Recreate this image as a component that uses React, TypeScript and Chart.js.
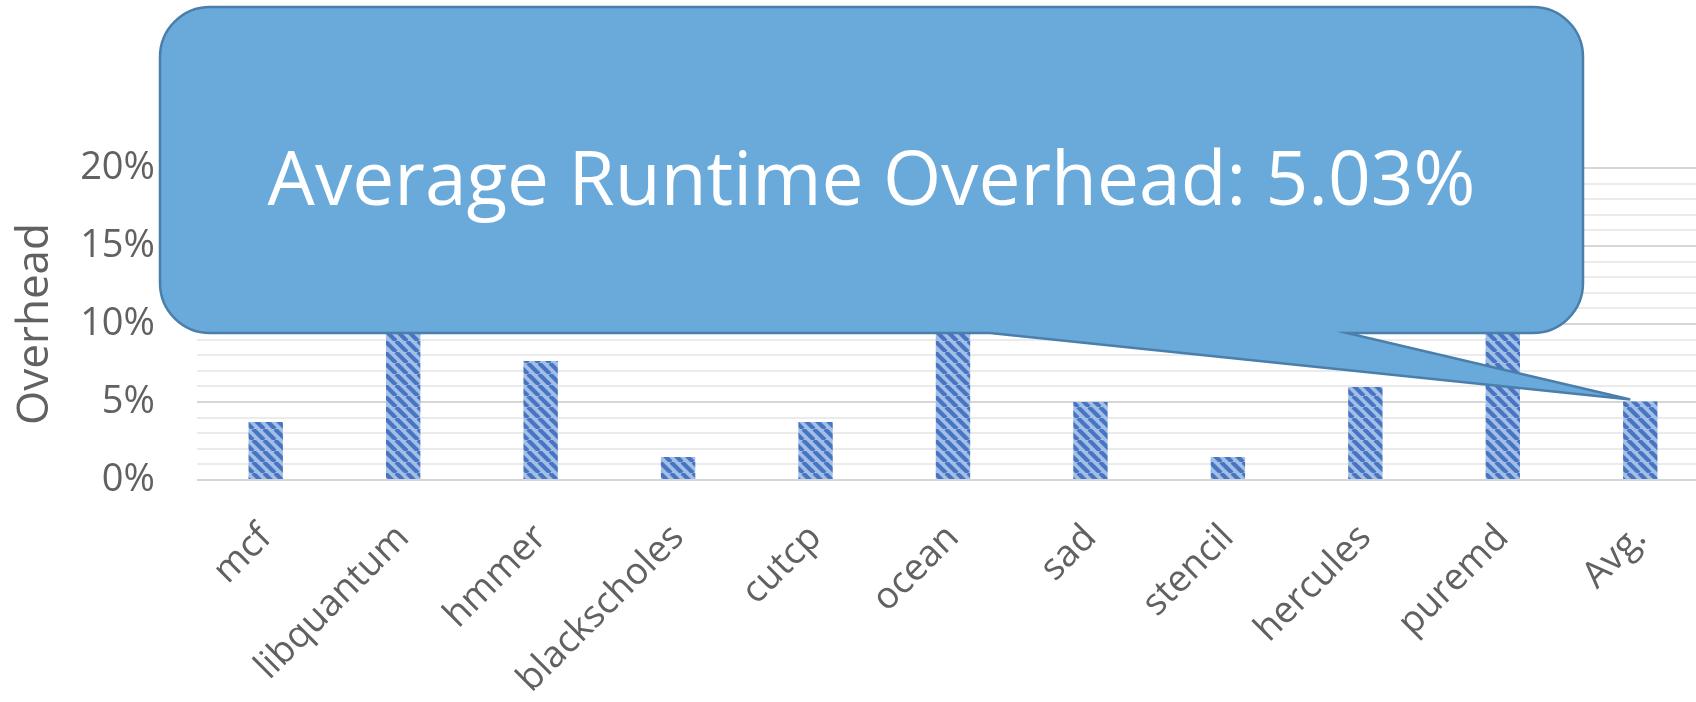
import React, { useEffect, useRef } from "react";
import { Chart, registerables } from "chart.js";

Chart.register(...registerables);

const categories = [
  "mcf",
  "libquantum",
  "hmmer",
  "blackscholes",
  "cutcp",
  "ocean",
  "sad",
  "stencil",
  "hercules",
  "puremd",
  "Avg.",
];
const overhead = [3.72, 10.8, 7.63, 1.47, 3.72, 9.5, 5.0, 1.47, 5.96, 10.5, 5.03];
const yMajorTicks = [0, 5, 10, 15, 20];
const yAxisTitle = "Overhead";
const calloutText = "Average Runtime Overhead: 5.03%";
const averageValue = 5.03;

const FONT = '"Open Sans", "DejaVu Sans", sans-serif';
const TEXT_COLOR = "#616161";

function makeHatch(): CanvasPattern | string {
  const s = 11;
  const c = document.createElement("canvas");
  c.width = s;
  c.height = s;
  const g = c.getContext("2d");
  if (!g) return "#6f97d6";
  g.fillStyle = "#a3bfe8";
  g.fillRect(0, 0, s, s);
  g.strokeStyle = "#4775c2";
  g.lineWidth = 4.2;
  g.beginPath();
  for (let k = -1; k <= 1; k++) {
    g.moveTo(k * s, 0);
    g.lineTo(k * s + s, s);
  }
  g.stroke();
  const p = g.createPattern(c, "repeat");
  return p || "#6f97d6";
}

const calloutPlugin = {
  id: "callout",
  afterDraw(chart: any) {
    const { ctx } = chart;
    const xs = chart.scales.x;
    const ys = chart.scales.y;
    const left = 160;
    const top = 7;
    const right = 1583;
    const bottom = 333;
    const r = 50;
    const tailRight = 1347;
    const tailLeft = 990;
    const tipX = xs.getPixelForValue(categories.length - 1) - 10;
    const tipY = ys.getPixelForValue(averageValue) - 2;

    ctx.save();
    ctx.beginPath();
    ctx.moveTo(left + r, top);
    ctx.lineTo(right - r, top);
    ctx.arcTo(right, top, right, top + r, r);
    ctx.lineTo(right, bottom - r);
    ctx.arcTo(right, bottom, right - r, bottom, r);
    ctx.lineTo(tailRight, bottom);
    ctx.lineTo(tipX, tipY);
    ctx.lineTo(tailLeft, bottom);
    ctx.lineTo(left + r, bottom);
    ctx.arcTo(left, bottom, left, bottom - r, r);
    ctx.lineTo(left, top + r);
    ctx.arcTo(left, top, left + r, top, r);
    ctx.closePath();
    ctx.fillStyle = "#6aaada";
    ctx.fill();
    ctx.lineWidth = 2.5;
    ctx.strokeStyle = "#4a7eab";
    ctx.stroke();

    ctx.font = `100px ${FONT}`;
    const w = ctx.measureText(calloutText).width;
    const size = (100 * 1208) / w;
    ctx.font = `${size}px ${FONT}`;
    ctx.fillStyle = "#ffffff";
    ctx.textAlign = "center";
    ctx.textBaseline = "alphabetic";
    ctx.fillText(calloutText, (left + right) / 2, 205);
    ctx.restore();
  },
};

export default function App() {
  const canvasRef = useRef<HTMLCanvasElement | null>(null);

  useEffect(() => {
    const canvas = canvasRef.current;
    if (!canvas) return;
    const hatch = makeHatch();
    const chart = new Chart(canvas, {
      type: "bar",
      data: {
        labels: categories,
        datasets: [
          {
            data: overhead,
            backgroundColor: hatch as any,
            borderWidth: 0,
            barPercentage: 0.5,
            categoryPercentage: 0.5,
          },
        ],
      },
      options: {
        responsive: false,
        animation: false,
        devicePixelRatio: 1,
        layout: { padding: { top: 168, right: 7, bottom: 0, left: 0 } },
        plugins: { legend: { display: false }, tooltip: { enabled: false } },
        scales: {
          x: {
            grid: { display: false },
            border: { display: false },
            ticks: {
              autoSkip: false,
              minRotation: 45,
              maxRotation: 45,
              padding: 28,
              color: TEXT_COLOR,
              font: { family: FONT, size: 37 },
            },
            afterFit: (s: any) => {
              s.height = 222;
            },
          },
          y: {
            min: 0,
            max: 20,
            border: { display: false },
            grid: {
              drawTicks: false,
              lineWidth: 2,
              color: (c: any) =>
                yMajorTicks.includes(c.tick?.value) ? "#d6d6d6" : "#ebebeb",
            },
            ticks: {
              stepSize: 1,
              autoSkip: false,
              padding: 42,
              color: TEXT_COLOR,
              font: { family: FONT, size: 38 },
              callback: (v: any) => (yMajorTicks.includes(Number(v)) ? `${v}%` : ""),
            },
            title: {
              display: true,
              text: yAxisTitle,
              color: TEXT_COLOR,
              font: { family: FONT, size: 44 },
              padding: { top: 9, bottom: 0 },
            },
            afterFit: (s: any) => {
              s.width = 197;
            },
          },
        },
      },
      plugins: [calloutPlugin],
    });
    return () => chart.destroy();
  }, []);

  return (
    <div
      style={{
        position: "fixed",
        left: 0,
        top: 0,
        width: 1696,
        height: 702,
        overflow: "hidden",
        background: "#ffffff",
      }}
    >
      <canvas ref={canvasRef} width={1716} height={702} style={{ display: "block" }} />
    </div>
  );
}
